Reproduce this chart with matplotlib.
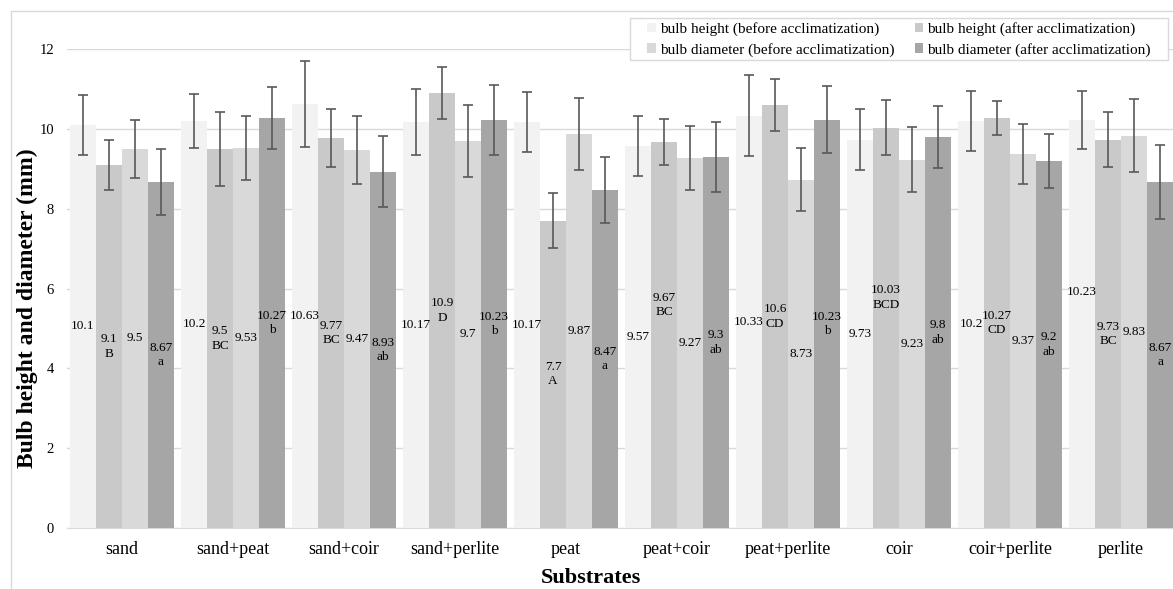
import matplotlib
matplotlib.use("Agg")
import matplotlib.pyplot as plt
import numpy as np
from matplotlib.patches import Patch, Rectangle

categories = ["sand", "sand+peat", "sand+coir", "sand+perlite", "peat",
              "peat+coir", "peat+perlite", "coir", "coir+perlite", "perlite"]

height_before = [10.1, 10.2, 10.63, 10.17, 10.17, 9.57, 10.33, 9.73, 10.2, 10.23]
height_after = [9.1, 9.5, 9.77, 10.9, 7.7, 9.67, 10.6, 10.03, 10.27, 9.73]
diam_before = [9.5, 9.53, 9.47, 9.7, 9.87, 9.27, 8.73, 9.23, 9.37, 9.83]
diam_after = [8.67, 10.27, 8.93, 10.23, 8.47, 9.3, 10.23, 9.8, 9.2, 8.67]

height_before_err = [0.76, 0.68, 1.08, 0.82, 0.75, 0.75, 1.01, 0.76, 0.75, 0.73]
height_after_err = [0.63, 0.92, 0.72, 0.65, 0.68, 0.57, 0.66, 0.69, 0.43, 0.69]
diam_before_err = [0.72, 0.80, 0.86, 0.90, 0.90, 0.80, 0.80, 0.82, 0.76, 0.92]
diam_after_err = [0.83, 0.77, 0.88, 0.88, 0.82, 0.87, 0.84, 0.78, 0.67, 0.92]

height_after_letters = ["B", "BC", "BC", "D", "A", "BC", "CD", "BCD", "CD", "BC"]
diam_after_letters = ["a", "b", "ab", "b", "a", "ab", "b", "ab", "ab", "a"]

series = [
    ("bulb height (before acclimatization)", height_before, height_before_err, None, "#f2f2f2"),
    ("bulb height (after acclimatization)", height_after, height_after_err, height_after_letters, "#c9c9c9"),
    ("bulb diameter (before acclimatization)", diam_before, diam_before_err, None, "#d9d9d9"),
    ("bulb diameter (after acclimatization)", diam_after, diam_after_err, diam_after_letters, "#a6a6a6"),
]

# a few labels were dragged up by hand in the original
label_nudge = {(1, 5): 0.75, (1, 7): 0.76, (0, 9): 0.8}

serif = "Liberation Serif"
W, H = 1173, 589
fig = plt.figure(figsize=(W / 100, H / 100), dpi=100)
ax = fig.add_axes([66.5 / W, 61 / H, 1110 / W, 479 / H])

x = np.arange(len(categories))
bw = 26 / 111
handles = []
for i, (name, vals, err, letters, color) in enumerate(series):
    pos = x + (i - 1.5) * bw
    ax.bar(pos, vals, width=bw, color=color, zorder=2)
    ax.errorbar(pos, vals, yerr=err, fmt="none", ecolor="#595959",
                elinewidth=1.2, capsize=3.5, capthick=1.2, zorder=3)
    for j, v in enumerate(vals):
        txt = f"{v:g}"
        if letters is not None:
            txt += "\n" + letters[j]
        ax.text(pos[j], v / 2 + label_nudge.get((i, j), 0), txt, ha="center", va="center",
                fontsize=9.5, family=serif, linespacing=1.25, zorder=4)
    handles.append(Patch(facecolor=color, edgecolor="none", label=name))

ax.set_xlim(-0.5, len(categories) - 0.5)
ax.set_ylim(0, 12)
ax.set_yticks(range(0, 13, 2))
ax.set_xticks(x)
ax.set_xticklabels(categories, fontsize=13, family=serif)
for t in ax.get_yticklabels():
    t.set_fontsize(10.5)
    t.set_family(serif)
ax.tick_params(axis="both", length=0)
ax.tick_params(axis="x", pad=9)
ax.tick_params(axis="y", pad=9)
ax.grid(axis="y", color="#d9d9d9", lw=1, zorder=0)
ax.set_axisbelow(True)
for s in ["top", "right", "left"]:
    ax.spines[s].set_visible(False)
ax.spines["bottom"].set_color("#d9d9d9")
ax.spines["bottom"].set_zorder(1)

fig.text(591 / W, 1 - 578 / H, "Substrates", ha="center", va="center",
         fontsize=16, fontweight="bold", family=serif)
fig.text(27 / W, 1 - 308 / H, "Bulb height and diameter (mm)", ha="center", va="center",
         rotation=90, fontsize=17, fontweight="bold", family=serif)

# legend box drawn by hand (Excel pads it wider than it is tall)
fig.patches.append(Rectangle((630 / W, 1 - 60 / H), 538 / W, 42 / H, transform=fig.transFigure,
                             facecolor="white", edgecolor="#d9d9d9", lw=1, zorder=5))
order = [handles[0], handles[2], handles[1], handles[3]]
leg = fig.legend(handles=order, ncol=2, loc="center",
                 bbox_to_anchor=(899 / W, 1 - 39.5 / H), borderaxespad=0,
                 prop={"family": serif, "size": 11}, frameon=False,
                 handlelength=0.55, handleheight=0.55,
                 handletextpad=0.25, columnspacing=1.35, labelspacing=0.42, borderpad=0)
leg.set_zorder(6)

fig.patches.append(Rectangle((10.5 / W, -0.1), 2, (H - 10.5) / H + 0.1, transform=fig.transFigure,
                             fill=False, edgecolor="#d9d9d9", lw=1))

fig.savefig("out.png", dpi=100)
